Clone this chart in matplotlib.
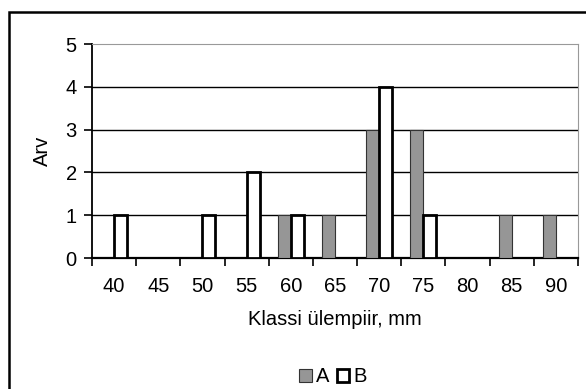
import matplotlib
matplotlib.use("Agg")
import matplotlib.pyplot as plt
import numpy as np
from matplotlib.patches import Rectangle

categories = ["40", "45", "50", "55", "60", "65", "70", "75", "80", "85", "90"]
series_a = [0, 0, 0, 0, 1, 1, 3, 3, 0, 1, 1]
series_b = [1, 0, 1, 2, 1, 0, 4, 1, 0, 0, 0]
y_ticks = [0, 1, 2, 3, 4, 5]

plt.rcParams['font.family'] = ['Liberation Sans', 'DejaVu Sans']
W, H = 586, 389
FS = 14.5
fig = plt.figure(figsize=(W / 100, H / 100), dpi=100)

# outer frame
fig.patches.append(Rectangle((9 / W, -0.05), 1.0, 1 - 12 / H + 0.05, transform=fig.transFigure,
                             fill=False, edgecolor='black', linewidth=1.8, zorder=0))

ax = fig.add_axes([92 / W, (H - 258) / H, (578 - 92) / W, (258 - 44) / H])
x = np.arange(len(categories))
bw = 0.295
ax.bar(x - bw, series_a, width=bw, align='edge', color='#969696', edgecolor='#333333', linewidth=0.8, zorder=3, label='A')
ax.bar(x, series_b, width=bw, align='edge', color='white', edgecolor='black', linewidth=2.0, zorder=3, label='B')

ax.set_xlim(-0.5, len(categories) - 0.5)
ax.set_ylim(0, 5)
ax.set_yticks(y_ticks)
ax.set_yticklabels([str(v) for v in y_ticks], fontsize=FS)
ax.set_xticks(x)
ax.set_xticklabels(categories, fontsize=FS)
ax.set_xticks(np.arange(-0.5, len(categories), 1.0), minor=True)
ax.tick_params(axis='x', which='major', length=0, pad=14)
ax.tick_params(axis='x', which='minor', length=6, width=1.2, direction='out', color='black')
ax.tick_params(axis='y', length=6, width=1.2, direction='out', pad=5)

for yv in y_ticks[1:-1]:
    ax.axhline(yv, color='black', linewidth=1.0, zorder=1)

ax.spines['top'].set_color('#999999')
ax.spines['right'].set_color('#999999')
ax.spines['left'].set_linewidth(1.3)
ax.spines['bottom'].set_linewidth(1.6)

ax.set_xlabel('Klassi ülempiir, mm', fontsize=FS, labelpad=10)
ax.set_ylabel('Arv', fontsize=FS, labelpad=10)

fig.legend(loc='center', bbox_to_anchor=(333 / W, 1 - 377 / H), ncol=2, frameon=False,
           fontsize=FS, handlelength=0.6, handleheight=0.6, handletextpad=0.2, columnspacing=0.4)

fig.savefig('out.png', dpi=100)
